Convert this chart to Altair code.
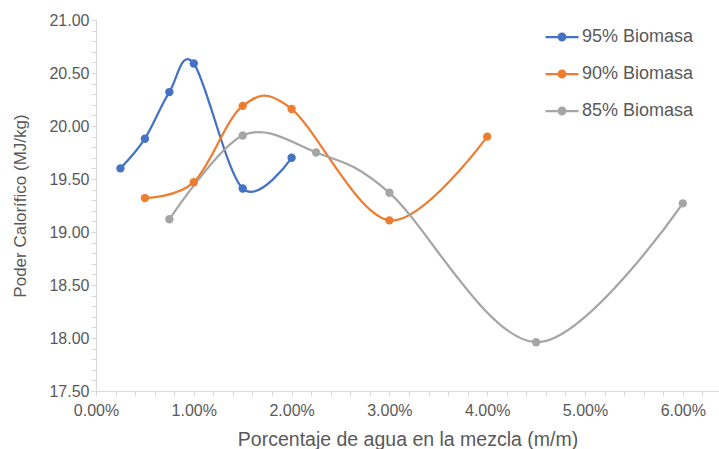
import altair as alt
import pandas as pd

series_names = ["95% Biomasa", "90% Biomasa", "85% Biomasa"]
colors = ["#4472C4", "#ED7D31", "#A5A5A5"]

x95 = [0.0025, 0.005, 0.0075, 0.010, 0.015, 0.020]
y95 = [19.60, 19.88, 20.32, 20.59, 19.41, 19.70]

x90 = [0.005, 0.010, 0.015, 0.020, 0.030, 0.040]
y90 = [19.32, 19.47, 20.19, 20.16, 19.11, 19.90]

x85 = [0.0075, 0.015, 0.0225, 0.030, 0.045, 0.060]
y85 = [19.12, 19.91, 19.75, 19.37, 17.96, 19.27]

rows = []
for name, xs, ys in zip(series_names, [x95, x90, x85], [y95, y90, y85]):
    for i, (a, b) in enumerate(zip(xs, ys)):
        rows.append({"serie": name, "x": a, "y": b, "i": i})
df = pd.DataFrame(rows)

y_ticks = [round(17.5 + 0.1 * k, 2) for k in range(36)]
x_ticks = [round(0.002 * k, 4) for k in range(32)]

legend_path = "M-1,0H1M0.2,0A0.2,0.2,0,1,1,-0.2,0A0.2,0.2,0,1,1,0.2,0"

color = alt.Color(
    "serie:N",
    scale=alt.Scale(domain=series_names, range=colors),
    sort=series_names,
    legend=alt.Legend(
        title=None,
        orient="none",
        legendX=448,
        legendY=-1,
        symbolType=legend_path,
        symbolSize=1089,
        symbolStrokeWidth=2.25,
        labelFontSize=18,
        labelColor="#595959",
        labelFont="Liberation Sans",
        rowPadding=10,
        labelOffset=2,
    ),
)

xenc = alt.X(
    "x:Q",
    scale=alt.Scale(domain=[0, 0.0637], nice=False, zero=False),
    axis=alt.Axis(
        title="Porcentaje de agua en la mezcla (m/m)",
        values=x_ticks,
        labelExpr="(round(datum.value*1000) % 10 == 0) ? format(datum.value, '.2%') : ''",
        grid=False,
        tickSize=5,
        labelPadding=6,
        labelFlush=False,
        labelOverlap=False,
        titlePadding=12,
        titleFontSize=19.5,
    ),
)
yenc = alt.Y(
    "y:Q",
    scale=alt.Scale(domain=[17.5, 21.0], nice=False, zero=False),
    axis=alt.Axis(
        title="Poder Calorífico (MJ/kg)",
        values=y_ticks,
        labelExpr="(round(datum.value*10) % 5 == 0) ? format(datum.value, '.2f') : ''",
        grid=False,
        tickSize=5,
        labelPadding=2,
        labelFlush=False,
        labelOverlap=False,
        titlePadding=19,
        titleFontSize=17,
    ),
)

lines = alt.Chart(df).mark_line(
    interpolate="cardinal", tension=0, strokeWidth=2.25
).encode(x=xenc, y=yenc, color=color, order="i:Q", detail="serie:N")

points = alt.Chart(df).mark_point(filled=True, size=70, opacity=1).encode(
    x=xenc, y=yenc, color=color
)

chart = (
    alt.layer(lines, points)
    .properties(
        width=623,
        height=371,
        autosize=alt.AutoSizeParams(type="none"),
        padding={"left": 96, "top": 20, "right": 0, "bottom": 58},
    )
    .configure_view(stroke=None)
    .configure_axis(
        domainColor="#D9D9D9",
        tickColor="#D9D9D9",
        domainWidth=1,
        labelColor="#595959",
        titleColor="#595959",
        labelFont="Liberation Sans",
        titleFont="Liberation Sans",
        labelFontSize=16,
        titleFontWeight="normal",
    )
)

chart.save("out.html", embed_options={"renderer": "svg", "actions": False})
